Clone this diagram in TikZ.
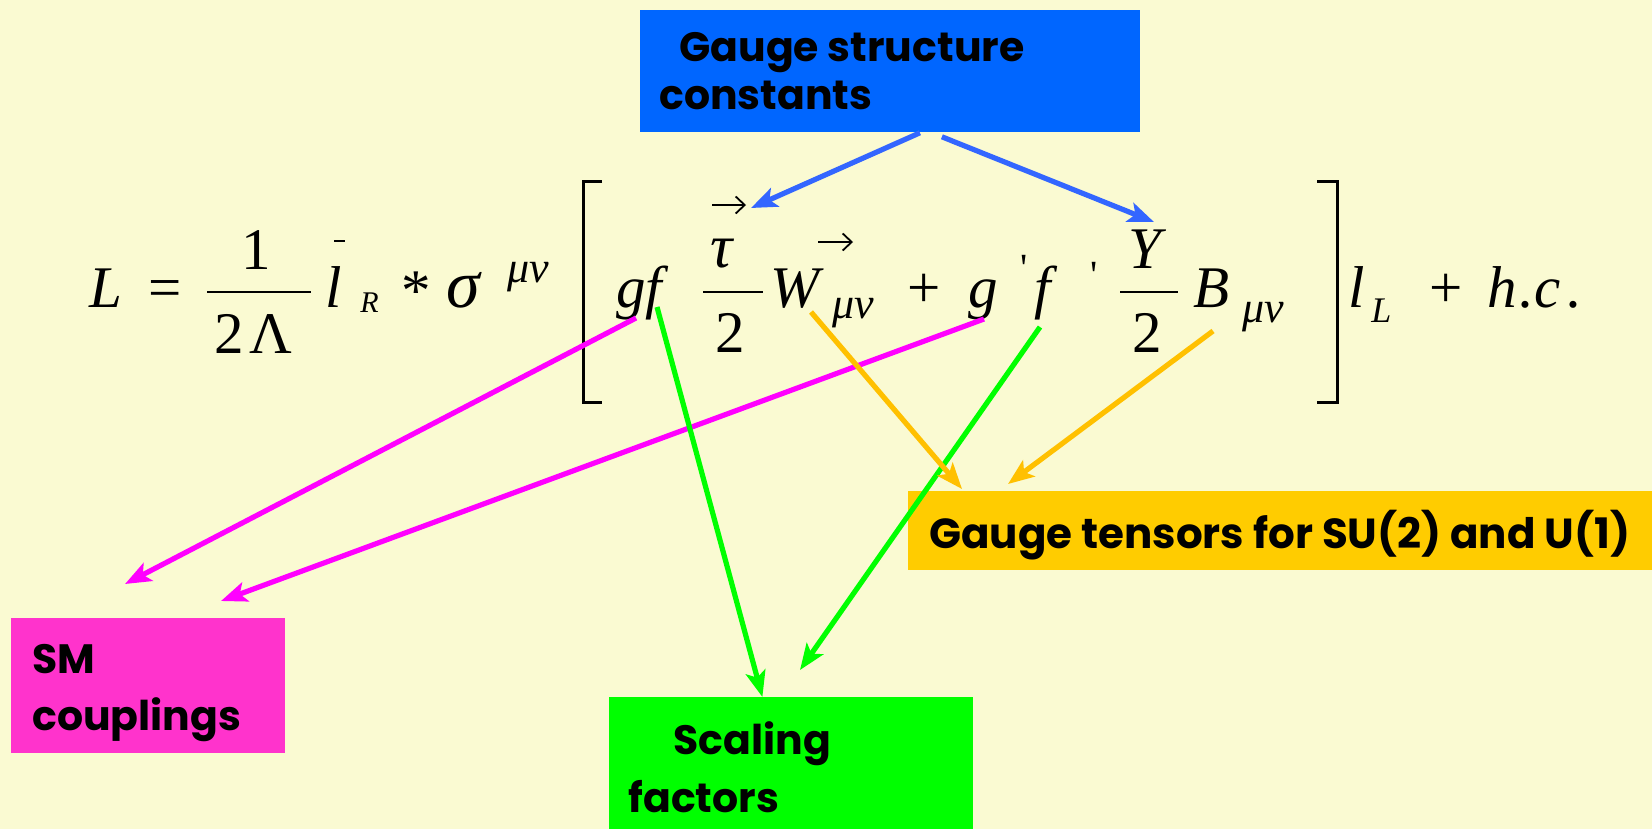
\documentclass[tikz,border=0pt]{standalone}
\usepackage{fontspec}
\setmainfont{Liberation Serif}
\newfontfamily\boxfont{Poppins}
\usetikzlibrary{arrows.meta}
\definecolor{bg}{RGB}{250,250,210}
\definecolor{bluebox}{RGB}{0,102,255}
\definecolor{bluearrow}{RGB}{51,102,255}
\definecolor{orangebox}{RGB}{255,204,0}
\definecolor{orangearrow}{RGB}{255,192,0}
\definecolor{pinkbox}{RGB}{255,51,204}
\definecolor{pinkarrow}{RGB}{255,0,255}
\definecolor{greenbox}{RGB}{0,255,0}
\definecolor{greenarrow}{RGB}{0,255,0}
\begin{document}
\begin{tikzpicture}[x=0.5pt,y=-0.5pt,
  eq/.style={inner sep=0pt, anchor=base west, font=\fontsize{29.5}{35}\selectfont},
  eqc/.style={eq, anchor=base},
  subsc/.style={inner sep=0pt, anchor=base west, font=\fontsize{22}{26}\selectfont\itshape},
  vecline/.style={line width=0.9pt, -{Straight Barb[length=4.5pt,width=8.5pt,line width=0.9pt]}},
  boxn/.style={inner sep=0pt, anchor=north west, draw=none},
  lbl/.style={inner sep=0pt, anchor=base west, font=\boxfont\bfseries\fontsize{20.5}{25}\selectfont},
  arr/.style={line width=2.6pt, -{Stealth[length=13pt,width=10pt,inset=3pt]}},
  brk/.style={line width=1.5pt},
  fbar/.style={line width=1.3pt}]
\fill[bg] (0,0) rectangle (1652,829);
\useasboundingbox (0,0) rectangle (1652,829);

% ---------- boxes ----------
\node[boxn, fill=bluebox, minimum width=250pt, minimum height=61pt] (gsc) at (640,10) {};
\node[lbl] (gsc1) at (679,62) {Gauge structure};
\node[lbl] (gsc2) at (659,110) {constants};

\node[boxn, fill=orangebox, minimum width=372pt, minimum height=39.5pt] (gt) at (908,491) {};
\node[lbl,font=\boxfont\bfseries\fontsize{21}{25}\selectfont] (gt1) at (929,548) {Gauge tensors for SU(2) and U(1)};

\node[boxn, fill=pinkbox, minimum width=137pt, minimum height=67.5pt] (smc) at (11,618) {};
\node[lbl] (smc1) at (32,673) {SM};
\node[lbl] (smc2) at (32,730) {couplings};

\node[boxn, fill=greenbox, minimum width=182pt, minimum height=66pt] (sf) at (609,697) {};
\node[lbl] (sf1) at (673,754) {Scaling};
\node[lbl] (sf2) at (628,812) {factors};

% ---------- equation ----------
\node[eq] (eL) at (89,307) {\itshape L};
\node[eq] (eeq) at (148,307) {=};
\node[eqc] (eone) at (256,269) {1};
\draw[fbar] (207,292) -- (311,292);
\node[eq] (etwoL) at (214,353) {2\kern3pt Λ};
\draw[line width=0.8pt] (334,241) -- (345,241);
\node[eq] (el) at (325,307) {\itshape l};
\node[subsc,font=\fontsize{15}{18}\selectfont\itshape] (eR) at (360,312) {R};
\node[eq] (estar) at (401,310) {*};
\node[eq,font=\fontsize{34}{40}\selectfont\itshape] (esig) at (446,307) {σ};
\node[subsc] (emunu1) at (507,282) {μν};
\draw[brk] (602,181) -- (583,181) -- (583,402) -- (602,402);
\node[eq] (egf) at (616,307) {\itshape gf};
\node[eqc,font=\fontsize{31}{36}\selectfont\itshape] (etau) at (722,267) {τ};
\draw[vecline] (712,205) -- (746,205);
\draw[fbar] (703,292) -- (763,292);
\node[eqc] (etwo1) at (730,352) {2};
\node[eq] (eW) at (770,307) {\itshape W};
\draw[vecline] (818,242) -- (853,242);
\node[subsc] (emunu2) at (832,318) {μν};
\node[eq] (eplus1) at (907,307) {+};
\node[eq] (eg) at (968,307) {\itshape g};
\node[eq,font=\fontsize{20}{24}\selectfont] (ep1) at (1020,281) {\textquotesingle};
\node[eq] (ef) at (1034,307) {\itshape f};
\node[eq,font=\fontsize{20}{24}\selectfont] (ep2) at (1090,288) {\textquotesingle};
\node[eqc] (eY) at (1145,268) {\itshape Y};
\draw[fbar] (1120,292) -- (1178,292);
\node[eqc] (etwo2) at (1147,352) {2};
\node[eq] (eB) at (1193,307) {\itshape B};
\node[subsc] (emunu3) at (1242,322) {μν};
\draw[brk] (1317,181) -- (1337,181) -- (1337,402) -- (1317,402);
\node[eq] (el2) at (1348,307) {\itshape l};
\node[subsc,font=\fontsize{18}{22}\selectfont\itshape] (eLs) at (1371,322) {L};
\node[eq] (eplus2) at (1429,307) {+};
\node[eq] (ehc) at (1487,307) {\itshape h\kern1.5pt.c\kern3.5pt.};

% ---------- connector end points ----------
\coordinate (tauTip) at (751,208);
\coordinate (YTip) at (1154,222);
\coordinate (gfPink) at (636,318);
\coordinate (gPink) at (984,319);
\coordinate (pinkEnd1) at (125,584);
\coordinate (pinkEnd2) at (221,601);
\coordinate (fGreen) at (657,307);
\coordinate (fpGreen) at (1040,327);
\coordinate (greenEnd2) at (800,670);
\coordinate (WOr) at (811,312);
\coordinate (BOr) at (1213,331);
\coordinate (orEnd1) at (962,489);
\coordinate (orEnd2) at (1008,484);

% ---------- connectors ----------
\draw[arr, bluearrow] ([xshift=14.75pt]gsc.south) -- (tauTip);
\draw[arr, bluearrow] ([xshift=25.75pt,yshift=-2pt]gsc.south) -- (YTip);
\draw[arr, pinkarrow] (gfPink) -- (pinkEnd1);
\draw[arr, pinkarrow] (gPink) -- (pinkEnd2);
\draw[arr, greenarrow] (fGreen) -- ([xshift=-14.5pt]sf.north);
\draw[arr, greenarrow] (fpGreen) -- (greenEnd2);
\draw[arr, orangearrow] (WOr) -- (orEnd1);
\draw[arr, orangearrow] (BOr) -- (orEnd2);
\end{tikzpicture}
\end{document}
